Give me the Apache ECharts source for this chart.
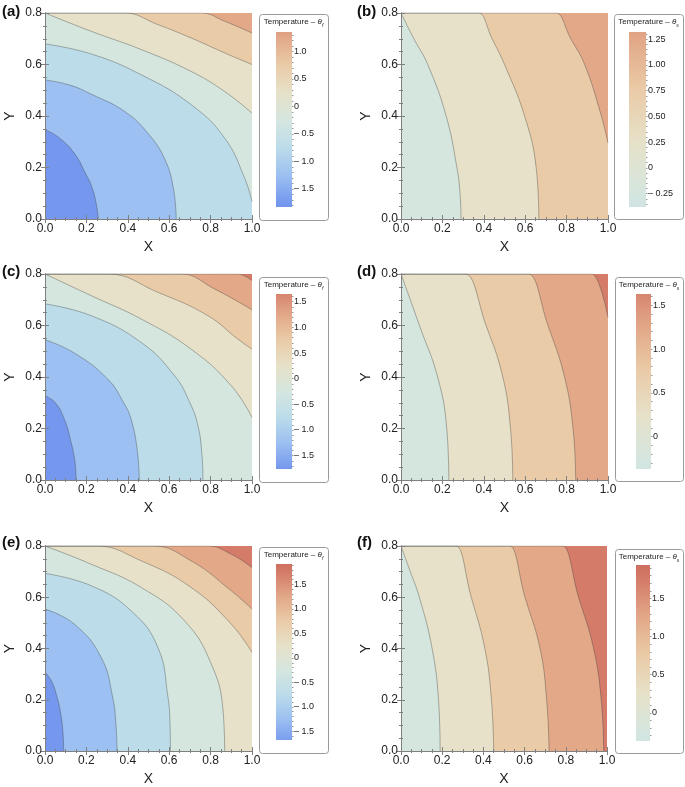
<!DOCTYPE html>
<html>
<head>
<meta charset="utf-8">
<script src="https://cdn.jsdelivr.net/npm/echarts@6/dist/echarts.min.js"></script>
<style>
  html, body { margin: 0; background: #fff; }
  #chart { width: 685px; height: 787px; }
</style>
</head>
<body>
<div id="chart"></div>
<script>
// contour lines, [X, Y] points, one list per level
const levelsA = [-1.5, -1.0, -0.5, 0, 0.5, 1.0];
const contoursA = [
  [[0, 0.346], [0.061, 0.32], [0.142, 0.255], [0.2, 0.17], [0.223, 0.132], [0.245, 0.07], [0.258, 0]],
  [[0, 0.54], [0.12, 0.52], [0.223, 0.485], [0.384, 0.418], [0.5, 0.33], [0.58, 0.23], [0.62, 0.12], [0.634, 0]],
  [[0, 0.68], [0.223, 0.641], [0.465, 0.56], [0.706, 0.444], [0.868, 0.314], [0.965, 0.158], [1, 0.067]],
  [[0, 0.8], [0.223, 0.729], [0.465, 0.658], [0.706, 0.573], [0.868, 0.495], [1, 0.411]],
  [[0, 0.8], [0.378, 0.8], [0.384, 0.8], [0.545, 0.755], [0.706, 0.703], [0.868, 0.645], [1, 0.6]],
  [[0, 0.8], [0.749, 0.8], [0.755, 0.8], [0.868, 0.768], [1, 0.722]]
];
const levelsB = [0, 0.5, 1.0];
const contoursB = [
  [[0, 0.8], [0.062, 0.7], [0.129, 0.6], [0.218, 0.4], [0.27, 0.2], [0.285, 0.1], [0.29, 0]],
  [[0, 0.8], [0.37, 0.8], [0.376, 0.8], [0.44, 0.7], [0.5, 0.6], [0.597, 0.4], [0.653, 0.2], [0.666, 0]],
  [[0, 0.8], [0.744, 0.8], [0.75, 0.8], [0.82, 0.7], [0.887, 0.6], [0.968, 0.4], [1, 0.295]]
];
const levelsC = [-1.5, -1.0, -0.5, 0, 0.5, 1.0, 1.5];
const contoursC = [
  [[0, 0.327], [0.05, 0.3], [0.094, 0.235], [0.125, 0.15], [0.145, 0.07], [0.15, 0]],
  [[0, 0.545], [0.142, 0.493], [0.303, 0.392], [0.38, 0.3], [0.416, 0.236], [0.445, 0.12], [0.456, 0]],
  [[0, 0.684], [0.223, 0.638], [0.465, 0.534], [0.626, 0.405], [0.7, 0.3], [0.739, 0.21], [0.758, 0.1], [0.763, 0]],
  [[0, 0.8], [0.223, 0.716], [0.465, 0.625], [0.706, 0.508], [0.9, 0.366], [1, 0.243]],
  [[0, 0.8], [0.297, 0.8], [0.303, 0.8], [0.545, 0.729], [0.787, 0.638], [0.932, 0.547], [1, 0.508]],
  [[0, 0.8], [0.652, 0.8], [0.658, 0.8], [0.819, 0.742], [1, 0.661]],
  [[0, 0.8], [0.926, 0.8], [0.932, 0.8], [1, 0.774]]
];
const levelsD = [0, 0.5, 1.0, 1.5];
const contoursD = [
  [[0, 0.8], [0.045, 0.7], [0.089, 0.6], [0.177, 0.4], [0.221, 0.2], [0.231, 0]],
  [[0, 0.8], [0.305, 0.8], [0.311, 0.8], [0.411, 0.6], [0.492, 0.4], [0.529, 0.2], [0.54, 0]],
  [[0, 0.8], [0.61, 0.8], [0.616, 0.8], [0.71, 0.6], [0.79, 0.4], [0.831, 0.2], [0.844, 0]],
  [[0, 0.8], [0.917, 0.8], [0.923, 0.8], [1, 0.632]]
];
const levelsE = [-1.5, -1.0, -0.5, 0, 0.5, 1.0, 1.5];
const contoursE = [
  [[0, 0.307], [0.03, 0.275], [0.055, 0.22], [0.075, 0.15], [0.087, 0.07], [0.09, 0]],
  [[0, 0.554], [0.142, 0.495], [0.271, 0.366], [0.327, 0.21], [0.343, 0.1], [0.348, 0]],
  [[0, 0.693], [0.223, 0.645], [0.416, 0.547], [0.545, 0.405], [0.594, 0.21], [0.604, 0.1], [0.606, 0]],
  [[0, 0.8], [0.223, 0.729], [0.465, 0.638], [0.674, 0.508], [0.803, 0.34], [0.86, 0.158], [0.868, 0]],
  [[0, 0.8], [0.241, 0.8], [0.247, 0.8], [0.465, 0.742], [0.706, 0.638], [0.9, 0.495], [1, 0.385]],
  [[0, 0.8], [0.515, 0.8], [0.521, 0.8], [0.706, 0.742], [0.9, 0.625], [1, 0.554]],
  [[0, 0.8], [0.781, 0.8], [0.787, 0.8], [0.9, 0.768], [1, 0.716]]
];
const levelsF = [0, 0.5, 1.0, 1.5];
const contoursF = [
  [[0, 0.8], [0.045, 0.7], [0.089, 0.6], [0.151, 0.4], [0.182, 0.2], [0.19, 0]],
  [[0, 0.8], [0.262, 0.8], [0.268, 0.8], [0.341, 0.6], [0.407, 0.4], [0.439, 0.2], [0.45, 0]],
  [[0, 0.8], [0.522, 0.8], [0.528, 0.8], [0.602, 0.6], [0.675, 0.4], [0.707, 0.2], [0.719, 0]],
  [[0, 0.8], [0.779, 0.8], [0.785, 0.8], [0.862, 0.6], [0.935, 0.4], [0.972, 0.2], [0.984, 0]]
];

// colour bar ranges and ticks
const rangeA = [-1.83, 1.35];
const ticksA = [-1.5, -1.0, -0.5, 0, 0.5, 1.0];
const labelsA = ['\u2013 1.5', '\u2013 1.0', '\u2013 0.5', '0', '0.5', '1.0'];
const rangeB = [-0.38, 1.32];
const ticksB = [-0.25, 0, 0.25, 0.5, 0.75, 1.0, 1.25];
const labelsB = ['\u2013 0.25', '0', '0.25', '0.50', '0.75', '1.00', '1.25'];
const rangeC = [-1.76, 1.65];
const ticksC = [-1.5, -1.0, -0.5, 0, 0.5, 1.0, 1.5];
const labelsC = ['\u2013 1.5', '\u2013 1.0', '\u2013 0.5', '0', '0.5', '1.0', '1.5'];
const rangeD = [-0.37, 1.63];
const ticksD = [0, 0.5, 1.0, 1.5];
const labelsD = ['0', '0.5', '1.0', '1.5'];
const rangeE = [-1.68, 1.92];
const ticksE = [-1.5, -1.0, -0.5, 0, 0.5, 1.0, 1.5];
const labelsE = ['\u2013 1.5', '\u2013 1.0', '\u2013 0.5', '0', '0.5', '1.0', '1.5'];
const rangeF = [-0.37, 1.94];
const ticksF = [0, 0.5, 1.0, 1.5];
const labelsF = ['0', '0.5', '1.0', '1.5'];

// band colours (band ending at bandTops[i]) and colour bar gradient
const bandTops = [-1.5, -1.0, -0.5, 0, 0.5, 1.0, 1.5, 2.0];
const bandColors = ['#7598ee', '#9cc0f1', '#bcdcea', '#d5e6df', '#e6e1c8', '#eacba8', '#e2a888', '#d47b69'];
const gradVals = [-2.0, -1.75, -1.25, -0.75, -0.25, 0.25, 0.75, 1.25, 1.75, 2.0];
const gradCols = ['#6a8eee', '#7598ee', '#9cc0f1', '#bcdcea', '#d5e6df', '#e6e1c8', '#eacba8', '#e2a888', '#d47b69', '#cc6a5c'];

const FONT = "'Liberation Sans', Arial, sans-serif";
const FRAME = '#808080';

const panels = [
  { tag: '(a)', sub: 'f', levels: levelsA, curves: contoursA, range: rangeA, ticks: ticksA, labels: labelsA, minor: 0.1,
    grid: [45, 13, 207, 206], bar: [276, 32, 16, 175], box: [259, 14, 69, 206], tagPos: [2, 4] },
  { tag: '(b)', sub: 's', levels: levelsB, curves: contoursB, range: rangeB, ticks: ticksB, labels: labelsB, minor: 0.05,
    grid: [401, 13, 207, 206], bar: [629, 32, 17, 175], box: [614, 14, 69, 205], tagPos: [357, 4] },
  { tag: '(c)', sub: 'f', levels: levelsC, curves: contoursC, range: rangeC, ticks: ticksC, labels: labelsC, minor: 0.1,
    grid: [45, 274, 207, 206], bar: [276, 294, 16, 175], box: [259, 277, 69, 205], tagPos: [2, 264] },
  { tag: '(d)', sub: 's', levels: levelsD, curves: contoursD, range: rangeD, ticks: ticksD, labels: labelsD, minor: 0.1,
    grid: [401, 274, 207, 206], bar: [636, 294, 15, 175], box: [615, 277, 68, 204], tagPos: [357, 264] },
  { tag: '(e)', sub: 'f', levels: levelsE, curves: contoursE, range: rangeE, ticks: ticksE, labels: labelsE, minor: 0.1,
    grid: [45, 546, 207, 206], bar: [276, 564, 16, 176], box: [259, 547, 69, 206], tagPos: [2, 535] },
  { tag: '(f)', sub: 's', levels: levelsF, curves: contoursF, range: rangeF, ticks: ticksF, labels: labelsF, minor: 0.1,
    grid: [401, 546, 206, 205], bar: [636, 565, 14, 176], box: [615, 549, 68, 204], tagPos: [357, 535] }
];

function hexRgb(h) { return [1, 3, 5].map(i => parseInt(h.slice(i, i + 2), 16)); }
function colorAt(v) {
  if (v <= gradVals[0]) return gradCols[0];
  for (let i = 1; i < gradVals.length; i++) {
    if (v <= gradVals[i]) {
      const t = (v - gradVals[i - 1]) / (gradVals[i] - gradVals[i - 1]);
      const a = hexRgb(gradCols[i - 1]), b = hexRgb(gradCols[i]);
      return 'rgb(' + a.map((c, k) => Math.round(c + (b[k] - c) * t)).join(',') + ')';
    }
  }
  return gradCols[gradCols.length - 1];
}
function barGradient(lo, hi) {
  const stops = [{ offset: 0, color: colorAt(lo) }];
  gradVals.forEach((v, i) => {
    if (v > lo && v < hi) stops.push({ offset: (v - lo) / (hi - lo), color: gradCols[i] });
  });
  stops.push({ offset: 1, color: colorAt(hi) });
  return new echarts.graphic.LinearGradient(0, 1, 0, 0, stops);
}
function bandIndex(level) {
  return bandTops.findIndex(t => Math.abs(t - level) < 1e-6);
}

const grids = [], xAxes = [], yAxes = [], series = [], graphics = [];

panels.forEach(p => {
  // main contour plot
  const g = grids.length;
  const top = p.levels[p.levels.length - 1];
  grids.push({ left: p.grid[0], top: p.grid[1], width: p.grid[2], height: p.grid[3],
    show: true, backgroundColor: bandColors[bandIndex(top) + 1], borderWidth: 0 });

  const tickStyle = { inside: true, length: 4, lineStyle: { color: FRAME } };
  const minorStyle = { show: true, splitNumber: 4, length: 2, lineStyle: { color: FRAME } };
  const xb = xAxes.length;
  xAxes.push({
    gridIndex: g, type: 'value', min: 0, max: 1, interval: 0.2, position: 'bottom', z: 5,
    axisLine: { show: true, lineStyle: { color: FRAME } },
    axisTick: tickStyle, minorTick: minorStyle, splitLine: { show: false },
    axisLabel: { formatter: v => v.toFixed(1), fontSize: 12, color: '#222', margin: 4, fontFamily: FONT },
    name: 'X', nameLocation: 'middle', nameGap: 21,
    nameTextStyle: { fontSize: 14, color: '#222', fontFamily: FONT }
  });
  xAxes.push({
    gridIndex: g, type: 'value', min: 0, max: 1, interval: 0.2, position: 'top', z: 5,
    axisLine: { show: true, lineStyle: { color: FRAME } },
    axisTick: tickStyle, minorTick: minorStyle, splitLine: { show: false }, axisLabel: { show: false }
  });
  const yl = yAxes.length;
  yAxes.push({
    gridIndex: g, type: 'value', min: 0, max: 0.8, interval: 0.2, position: 'left', z: 5,
    axisLine: { show: true, lineStyle: { color: FRAME } },
    axisTick: tickStyle, minorTick: minorStyle, splitLine: { show: false },
    axisLabel: { formatter: v => v.toFixed(1), fontSize: 12, color: '#222', margin: 3, fontFamily: FONT },
    name: 'Y', nameLocation: 'middle', nameGap: 28, nameRotate: 90,
    nameTextStyle: { fontSize: 14, color: '#222', fontFamily: FONT }
  });
  yAxes.push({
    gridIndex: g, type: 'value', min: 0, max: 0.8, interval: 0.2, position: 'right', z: 5,
    axisLine: { show: true, lineStyle: { color: FRAME } },
    axisTick: tickStyle, minorTick: minorStyle, splitLine: { show: false }, axisLabel: { show: false }
  });

  // highest level first, each one filled with the band just below it
  for (let i = p.levels.length - 1; i >= 0; i--) {
    series.push({
      type: 'line', xAxisIndex: xb, yAxisIndex: yl, data: p.curves[i],
      smooth: 0.45, showSymbol: false, silent: true,
      lineStyle: { color: 'rgba(70,70,70,0.5)', width: 0.8 },
      areaStyle: { color: bandColors[bandIndex(p.levels[i])], opacity: 1, origin: 'start' },
      z: 2
    });
  }

  // colour bar
  const cg = grids.length;
  grids.push({ left: p.bar[0], top: p.bar[1], width: p.bar[2], height: p.bar[3] });
  const cx = xAxes.length;
  xAxes.push({ gridIndex: cg, type: 'value', min: 0, max: 1, show: false });
  const cy = yAxes.length;
  yAxes.push({
    gridIndex: cg, type: 'value', min: p.range[0], max: p.range[1], position: 'right',
    axisLine: { show: false }, splitLine: { show: false },
    axisTick: { show: true, length: 3, customValues: p.ticks, lineStyle: { color: '#777' } },
    axisLabel: {
      customValues: p.ticks, fontSize: 9, color: '#222', margin: 2, fontFamily: FONT,
      formatter: v => p.labels[p.ticks.findIndex(t => Math.abs(t - v) < 1e-6)]
    }
  });
  const minors = [];
  for (let v = Math.ceil(p.range[0] / p.minor) * p.minor; v <= p.range[1]; v += p.minor) {
    minors.push(+v.toFixed(3));
  }
  yAxes.push({
    gridIndex: cg, type: 'value', min: p.range[0], max: p.range[1], position: 'right',
    axisLine: { show: false }, splitLine: { show: false }, axisLabel: { show: false },
    axisTick: { show: true, length: 1.5, customValues: minors, lineStyle: { color: '#999' } }
  });
  const grad = barGradient(p.range[0], p.range[1]);
  series.push({
    type: 'custom', xAxisIndex: cx, yAxisIndex: cy, silent: true,
    data: [[0, p.range[0], p.range[1]]],
    encode: { x: 0, y: [1, 2] },
    renderItem: (params, api) => {
      const a = api.coord([0, api.value(2)]);
      const b = api.coord([1, api.value(1)]);
      return { type: 'rect', shape: { x: a[0], y: a[1], width: b[0] - a[0], height: b[1] - a[1] },
        style: { fill: grad } };
    }
  });

  // legend box, title and panel tag
  graphics.push({
    type: 'rect', shape: { x: p.box[0] + 0.5, y: p.box[1] + 0.5, width: p.box[2], height: p.box[3], r: 3 },
    style: { fill: 'none', stroke: '#9a9a9a', lineWidth: 1 }, silent: true
  });
  graphics.push({
    type: 'text', x: p.box[0] + p.box[2] / 2, y: p.box[1] + 8, silent: true,
    style: {
      text: '{m|Temperature \u2013 }{t|\u03b8}{s|' + p.sub + '}',
      align: 'center', verticalAlign: 'middle',
      rich: {
        m: { fontSize: 8, fontFamily: FONT, fill: '#222', lineHeight: 12, verticalAlign: 'middle' },
        t: { fontSize: 8, fontFamily: FONT, fontStyle: 'italic', fill: '#222', lineHeight: 12, verticalAlign: 'middle' },
        s: { fontSize: 5, fontFamily: FONT, fontStyle: 'italic', fill: '#222', lineHeight: 12, verticalAlign: 'bottom' }
      }
    }
  });
  graphics.push({
    type: 'text', x: p.tagPos[0], y: p.tagPos[1], silent: true,
    style: { text: p.tag, fontSize: 15, fontWeight: 'bold', fontFamily: FONT, fill: '#111' }
  });
});

const myChart = echarts.init(document.getElementById('chart'), null, { renderer: 'canvas' });
myChart.setOption({
  animation: false,
  grid: grids,
  xAxis: xAxes,
  yAxis: yAxes,
  series: series,
  graphic: graphics
});
window.addEventListener('resize', function () {
  myChart.resize();
});
</script>
</body>
</html>
